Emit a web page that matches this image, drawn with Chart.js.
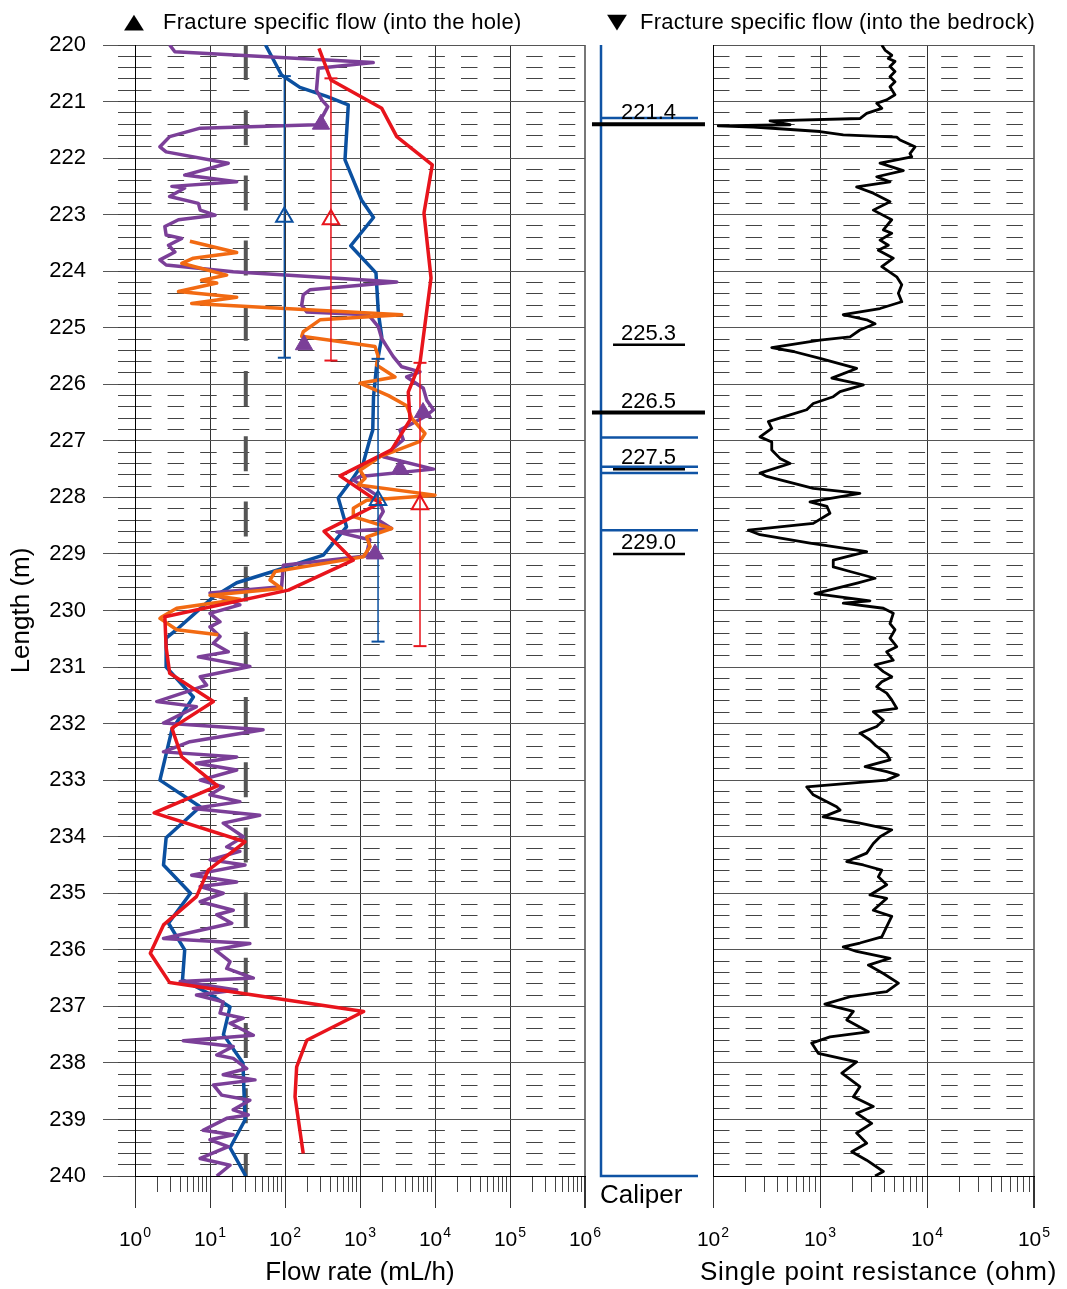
<!DOCTYPE html>
<html>
<head>
<meta charset="utf-8">
<script src="https://cdn.jsdelivr.net/npm/chart.js@4.4.1/dist/chart.umd.min.js"></script>
<style>
  body { margin: 0; background: #fff; font-family: "Liberation Sans", Arial, sans-serif; }
  #wrap { position: relative; width: 1067px; height: 1289px; overflow: hidden; background: #fff; }
  canvas { position: absolute; top: 0; }
  .txt { position: absolute; color: #000; white-space: nowrap; line-height: 1; }
  .mark { font-family: "DejaVu Sans", sans-serif; font-size: 26px; transform: scaleY(0.8); transform-origin: 50% 50%; }
</style>
</head>
<body>
<div id="wrap">
  <canvas id="flow" width="640" height="1289" style="left:0;width:640px;height:1289px"></canvas>
  <canvas id="caliper" width="125" height="1289" style="left:587px;width:125px;height:1289px"></canvas>
  <canvas id="spr" width="397" height="1289" style="left:670px;width:397px;height:1289px"></canvas>

  <div class="txt mark" style="left:124px;top:8px">▲</div>
  <div class="txt" style="left:163px;top:11px;font-size:22px;letter-spacing:0.3px">Fracture specific flow (into the hole)</div>
  <div class="txt mark" style="left:607px;top:8px">▼</div>
  <div class="txt" style="left:640px;top:11px;font-size:22px;letter-spacing:0.27px">Fracture specific flow (into the bedrock)</div>
  <div class="txt" style="left:600px;top:1181px;font-size:26px">Caliper</div>
  <div class="txt" style="left:700px;top:1258px;font-size:26px;letter-spacing:0.7px">Single point resistance (ohm)</div>
</div>

<script>
// depth (m), flow (mL/h)
const bluePts = [
  [220.00, 55], [220.53, 90], [220.75, 158], [220.91, 360], [221.06, 698], [222.03, 631],
  [222.74, 1047], [223.05, 1514], [223.55, 752], [224.03, 1633], [224.74, 1758], [225.16, 1950],
  [225.69, 1660], [226.22, 1514], [226.81, 1479], [226.98, 1349], [227.39, 1107], [227.69, 776],
  [228.01, 513], [228.52, 661], [229.02, 324], [229.31, 69], [229.51, 22.7], [229.76, 11.1],
  [230.31, 3.8], [230.49, 2.6], [231.00, 2.6], [231.53, 6.0], [232.11, 3.1], [233.00, 2.15],
  [233.47, 7.4], [234.02, 2.6], [234.50, 2.4], [235.00, 5.5], [235.53, 2.8], [236.00, 4.6],
  [236.53, 4.3], [236.75, 9.0], [237.01, 18.5], [237.50, 15.1], [238.00, 27.5], [239.01, 29.3],
  [239.50, 18.5], [240.00, 30]
];

const redPts = [
  [220.06, 284], [220.62, 410], [221.12, 1950], [221.62, 3090], [222.12, 9200], [222.97, 7130],
  [224.12, 8850], [225.62, 6310], [226.14, 4400], [226.63, 4650], [227.16, 2630], [227.62, 541],
  [228.10, 1850], [228.60, 331], [229.11, 813], [229.64, 111], [230.11, 2.5], [230.65, 2.6],
  [231.11, 2.9], [231.61, 11.1], [232.08, 3.1], [232.59, 4.2], [233.10, 12.6], [233.58, 1.8],
  [234.09, 29.3], [234.59, 9.5], [235.06, 6.6], [235.56, 2.4], [236.06, 1.6], [236.58, 2.9],
  [237.09, 1120], [237.60, 195], [238.07, 143], [238.60, 136], [239.60, 175]
];

const purplePts = [
  [220.00, 2.9], [220.12, 3.4], [220.31, 1500], [220.41, 278], [220.80, 263], [220.97, 309],
  [221.09, 372], [221.24, 324], [221.41, 263], [221.47, 7.4], [221.62, 2.9], [221.80, 2.15],
  [221.89, 2.6], [222.09, 17.5], [222.30, 4.6], [222.42, 22.7], [222.50, 3.1], [222.53, 4.6],
  [222.68, 2.9], [222.80, 7.0], [222.92, 7.4], [223.01, 11.7], [223.09, 3.8], [223.21, 2.5],
  [223.36, 2.6], [223.42, 4.2], [223.54, 2.8], [223.66, 3.4], [223.80, 2.15], [223.89, 2.6],
  [224.01, 20.4], [224.19, 3090], [224.33, 215], [224.42, 175], [224.60, 167], [224.72, 195],
  [224.77, 1290], [224.98, 1750], [225.19, 1950], [225.33, 2270], [225.51, 2780], [225.69, 3600],
  [225.78, 6310], [225.87, 4190], [226.07, 6980], [226.28, 7760], [226.45, 9550], [226.57, 7360],
  [226.81, 3410], [226.98, 3780], [227.28, 2040], [227.50, 9550], [227.63, 1000], [227.69, 813],
  [227.96, 1660], [228.25, 2040], [228.40, 1750], [228.55, 2630], [228.61, 490], [228.75, 1350],
  [228.99, 1230], [229.02, 1585], [229.20, 95], [229.58, 90], [229.69, 10], [229.90, 25],
  [230.05, 10], [230.20, 13.6], [230.29, 10], [230.46, 13.6], [230.58, 11.1], [230.73, 17.5],
  [230.82, 7.0], [230.99, 34], [231.17, 7.4], [231.32, 9.0], [231.61, 1.95], [231.70, 6.6],
  [231.99, 2.4], [232.11, 51], [232.32, 5.4], [232.50, 2.4], [232.59, 22.7], [232.70, 6.6],
  [232.82, 22.7], [233.00, 7.4], [233.12, 15], [233.26, 10], [233.38, 25], [233.50, 6.0],
  [233.62, 46], [233.76, 15], [234.00, 27.8], [234.18, 16.7], [234.26, 25], [234.41, 10],
  [234.50, 29.3], [234.68, 5.7], [234.80, 22.7], [234.88, 7.4], [235.00, 15], [235.15, 7.4],
  [235.30, 20.4], [235.38, 12.3], [235.53, 19.5], [235.80, 2.4], [235.89, 34], [236.00, 11.7],
  [236.21, 18.5], [236.33, 16.7], [236.50, 37.8], [236.56, 4.0], [236.71, 22.7], [236.80, 6.6],
  [236.92, 15], [237.12, 13.6], [237.21, 27.8], [237.30, 18.5], [237.51, 37.8], [237.61, 4.4],
  [237.71, 20.4], [237.86, 12.3], [237.92, 20.4], [238.10, 30.9], [238.21, 15], [238.30, 39.8],
  [238.39, 11.1], [238.57, 14.3], [238.66, 34], [238.83, 20.4], [238.92, 32.4], [238.98, 16.7],
  [239.19, 8.1], [239.27, 20.4], [239.36, 10], [239.48, 17.5], [239.69, 7.4], [239.81, 18.5],
  [240.00, 12.3]
];

const orangePts = [
  [223.47, 5.4], [223.67, 22.7], [223.77, 6.0], [223.86, 4.2], [224.07, 16.7], [224.16, 7.7],
  [224.21, 12.3], [224.36, 3.8], [224.46, 22.7], [224.57, 5.7], [224.77, 3600], [224.86, 293],
  [225.07, 175], [225.15, 167], [225.33, 1585], [225.51, 1750], [225.66, 1660], [225.87, 2930],
  [225.98, 1000], [226.20, 2400], [226.38, 4200], [226.60, 4900], [226.87, 7360], [227.01, 6310],
  [227.28, 1850], [227.52, 1000], [227.66, 1170], [227.78, 950], [227.96, 10000], [228.05, 1230],
  [228.19, 815], [228.34, 815], [228.55, 2640], [228.70, 1230], [228.87, 1360], [229.05, 1110],
  [229.14, 440], [229.31, 74], [229.46, 63], [229.61, 90], [229.73, 10], [229.80, 25],
  [229.96, 3.6], [230.11, 2.3], [230.14, 2.15], [230.34, 3.6], [230.43, 12.9]
];

// measured 5 m sections: [top, bottom, flow]
const blueSections = [[220.55, 225.53, 98], [225.55, 230.55, 1740]];
const redSections = [[220.59, 225.58, 410], [225.62, 230.63, 6310]];

const detectionLimit = 30;

const fractureDepths = [221.4, 225.3, 226.5, 227.5, 229.0];
const fractureFlow = [302, 179, 6920, 3415, 1585];
const fractureMajor = [true, false, true, false, false];

const caliperSpikes = [221.29, 226.94, 227.46, 227.57, 228.58];

// depth (m), resistance (ohm)
const sprPts = [
  [220.00, 3780], [220.09, 4050], [220.18, 4680], [220.24, 4350], [220.29, 5020], [220.38, 4510],
  [220.47, 5020], [220.56, 4510], [220.65, 5020], [220.74, 4510], [220.88, 5020], [220.97, 4200],
  [221.03, 3390], [221.12, 3780], [221.21, 2730], [221.30, 2360], [221.34, 341], [221.41, 525],
  [221.43, 112], [221.45, 238], [221.53, 1000], [221.59, 1650], [221.63, 5210], [221.68, 5600],
  [221.80, 7730], [221.92, 6930], [221.98, 7200], [222.09, 3640], [222.22, 6010], [222.33, 3390],
  [222.42, 4510], [222.51, 2200], [222.62, 3150], [222.77, 4510], [222.92, 3150], [223.09, 4680],
  [223.27, 3910], [223.33, 4680], [223.45, 3640], [223.54, 4350], [223.63, 3510], [223.77, 4840],
  [223.92, 3780], [224.10, 5210], [224.24, 5810], [224.39, 5400], [224.54, 5810], [224.66, 3640],
  [224.77, 1650], [224.86, 2730], [224.93, 3270], [225.04, 2360], [225.16, 1910], [225.22, 1000],
  [225.35, 354], [225.42, 563], [225.54, 1000], [225.72, 2200], [225.89, 1290], [226.01, 2540],
  [226.13, 1540], [226.22, 1330], [226.34, 865], [226.45, 751], [226.54, 525], [226.66, 329],
  [226.78, 354], [226.93, 275], [227.02, 354], [227.16, 354], [227.31, 423], [227.40, 525],
  [227.57, 275], [227.63, 318], [227.84, 865], [227.93, 2360], [228.08, 807], [228.16, 1160],
  [228.28, 1240], [228.46, 865], [228.58, 214], [228.66, 275], [228.81, 807], [228.96, 2730],
  [229.11, 1330], [229.23, 1330], [229.31, 1910], [229.43, 3270], [229.51, 2270], [229.70, 897],
  [229.83, 2930], [229.87, 1650], [229.96, 3910], [230.05, 4840], [230.23, 4510], [230.34, 5020],
  [230.49, 4510], [230.64, 5210], [230.73, 4200], [230.88, 4840], [230.96, 3270], [231.08, 3910],
  [231.17, 4680], [231.26, 3780], [231.35, 3390], [231.46, 4200], [231.58, 4680], [231.73, 5210],
  [231.79, 3150], [231.94, 3910], [232.05, 3390], [232.17, 2360], [232.29, 2930], [232.38, 3270],
  [232.53, 4200], [232.64, 4510], [232.76, 2640], [232.85, 4200], [232.91, 5400], [233.00, 4200],
  [233.12, 751], [233.26, 865], [233.47, 1430], [233.53, 1540], [233.65, 1070], [233.76, 2360],
  [233.88, 4680], [234.00, 3640], [234.12, 3150], [234.29, 2730], [234.44, 1780], [234.50, 2540],
  [234.59, 3780], [234.71, 3510], [234.85, 4200], [235.03, 2930], [235.09, 4200], [235.30, 3150],
  [235.41, 4680], [235.59, 4200], [235.77, 3780], [235.88, 2360], [235.95, 1650], [236.03, 2200],
  [236.15, 4510], [236.27, 2830], [236.42, 3910], [236.59, 5400], [236.74, 4200], [236.83, 1910],
  [236.96, 1110], [237.09, 2050], [237.24, 1780], [237.45, 2830], [237.54, 1240], [237.65, 836],
  [237.83, 964], [237.98, 2200], [238.18, 1600], [238.42, 2360], [238.60, 2050], [238.77, 3150],
  [238.89, 2200], [239.07, 3040], [239.24, 2200], [239.42, 2730], [239.57, 1980], [239.72, 2730],
  [239.92, 3910], [240.00, 3270]
];

const flowDecades = [1, 10, 100, 1000, 10000, 100000, 1000000];
const sprDecades = [100, 1000, 10000, 100000];

const BLUE = '#0b50a0';
const RED = '#e8141c';
const PURPLE = '#7b3f98';
const ORANGE = '#f26a12';
const FONT = '"Liberation Sans", Arial, sans-serif';

Chart.defaults.font.family = FONT;
Chart.defaults.color = '#000';

const isWhole = (v) => Math.abs(v - Math.round(v)) < 1e-6;

function minorsOf(decades) {
  const out = [];
  decades.slice(0, -1).forEach((d) => {
    for (let k = 2; k <= 9; k++) out.push(d * k);
  });
  return out;
}

// "10" with a raised exponent under each decade tick
const decadeLabels = {
  id: 'decadeLabels',
  afterDraw(chart) {
    const s = chart.scales.x;
    const ctx = chart.ctx;
    const base = s.top + 70;
    ctx.save();
    ctx.fillStyle = '#000';
    ctx.textAlign = 'left';
    ctx.textBaseline = 'alphabetic';
    s.ticks.forEach((t) => {
      const x = s.getPixelForValue(t.value);
      const exp = String(Math.round(Math.log10(t.value)));
      ctx.font = '21px ' + FONT;
      const w1 = ctx.measureText('10').width;
      ctx.font = '14px ' + FONT;
      const w2 = ctx.measureText(exp).width;
      const left = x - (w1 + w2 + 1) / 2;
      ctx.font = '21px ' + FONT;
      ctx.fillText('10', left, base);
      ctx.font = '14px ' + FONT;
      ctx.fillText(exp, left + w1 + 1, base - 9.5);
    });
    ctx.restore();
  },
};

function depthScales(labelled, yWidth) {
  return {
    y: {
      type: 'linear',
      position: 'left',
      reverse: true,
      min: 220,
      max: 240,
      weight: 1,
      afterFit: (s) => { s.width = yWidth; },
      ticks: { stepSize: 1, display: labelled, color: '#000', font: { size: 22 }, padding: 17 },
      grid: { color: '#555', tickColor: '#555', tickLength: 32, drawTicks: labelled },
      border: { color: '#000' },
      title: {
        display: labelled,
        text: 'Length (m)',
        color: '#000',
        font: { size: 26 },
        padding: { top: 6, bottom: 0 },
      },
    },
    ym: {
      type: 'linear',
      position: 'left',
      reverse: true,
      min: 220,
      max: 240,
      weight: 0,
      afterFit: (s) => { s.width = 0; },
      ticks: { stepSize: 0.2, display: false },
      grid: {
        color: (ctx) => (ctx.tick && isWhole(ctx.tick.value) ? 'rgba(0,0,0,0)' : '#444'),
        tickColor: '#444',
        tickLength: 17,
        drawTicks: labelled,
      },
      border: { display: false, dash: [16.5, 16.1] },
    },
  };
}

function logScales(min, max, decades, title) {
  const last = (ctx) => ctx.tick && ctx.tick.value === max;
  return {
    x: {
      type: 'logarithmic',
      position: 'bottom',
      min: min,
      max: max,
      weight: 1,
      afterBuildTicks: (s) => { s.ticks = decades.map((v) => ({ value: v })); },
      afterFit: (s) => { s.height = 113; },
      ticks: { display: false, autoSkip: false },
      grid: {
        color: (ctx) => (last(ctx) ? '#777' : '#333'),
        lineWidth: (ctx) => (last(ctx) ? 2 : 1),
        tickColor: '#333',
        tickLength: 32,
      },
      border: { color: '#000' },
      title: title
        ? { display: true, text: title, color: '#000', font: { size: 26 }, padding: { top: 0, bottom: 1 } }
        : { display: false },
    },
    xm: {
      type: 'logarithmic',
      position: 'bottom',
      min: min,
      max: max,
      weight: 0,
      afterBuildTicks: (s) => { s.ticks = minorsOf(decades).map((v) => ({ value: v })); },
      afterFit: (s) => { s.height = 0; },
      ticks: { display: false },
      grid: { drawOnChartArea: false, color: '#444', tickLength: 16 },
      border: { display: false },
    },
  };
}

function line(pts, color, width) {
  return {
    data: pts.map((p) => ({ x: p[1], y: p[0] })),
    borderColor: color,
    backgroundColor: color,
    borderWidth: width,
    pointRadius: 0,
    showLine: true,
    tension: 0,
    borderJoinStyle: 'round',
  };
}

function section(sec, color) {
  const mid = (sec[0] + sec[1]) / 2;
  return {
    data: [{ x: sec[2], y: sec[0] }, { x: sec[2], y: mid }, { x: sec[2], y: sec[1] }],
    borderColor: color,
    borderWidth: 1.5,
    showLine: true,
    tension: 0,
    pointStyle: ['line', 'triangle', 'line'],
    pointRadius: [6.5, 9.5, 6.5],
    pointBorderWidth: [2, 2, 2],
    pointBorderColor: color,
    pointBackgroundColor: 'rgba(0,0,0,0)',
  };
}

const baseOpts = {
  responsive: false,
  animation: false,
  devicePixelRatio: 1,
  plugins: { legend: { display: false }, tooltip: { enabled: false } },
  events: [],
};

// left panel: flow rate
new Chart(document.getElementById('flow'), {
  type: 'scatter',
  data: {
    datasets: [
      {
        data: fractureDepths.map((d, i) => ({ x: fractureFlow[i], y: d })),
        pointStyle: 'triangle',
        pointRadius: 10,
        pointBackgroundColor: PURPLE,
        pointBorderColor: PURPLE,
        pointBorderWidth: 1,
        showLine: false,
      },
      ...blueSections.map((s) => section(s, BLUE)),
      ...redSections.map((s) => section(s, RED)),
      line(redPts, RED, 3.5),
      line(orangePts, ORANGE, 3.5),
      line(purplePts, PURPLE, 3.5),
      line(bluePts, BLUE, 3.5),
      {
        data: [{ x: detectionLimit, y: 220 }, { x: detectionLimit, y: 240 }],
        borderColor: '#555',
        borderWidth: 4,
        borderDash: [35, 30.2],
        pointRadius: 0,
        showLine: true,
      },
    ],
  },
  options: {
    ...baseOpts,
    layout: { padding: { top: 45, right: 55, bottom: 0, left: 0 } },
    scales: { ...logScales(1, 1000000, flowDecades, 'Flow rate (mL/h)'), ...depthScales(true, 135) },
  },
  plugins: [decadeLabels],
});

// middle panel: caliper and fracture marks
const fractureLabels = {
  id: 'fractureLabels',
  afterDatasetsDraw(chart) {
    const { ctx, scales } = chart;
    ctx.save();
    ctx.font = '22px ' + FONT;
    ctx.fillStyle = '#000';
    ctx.textAlign = 'center';
    ctx.textBaseline = 'alphabetic';
    fractureDepths.forEach((d) => {
      ctx.fillText(d.toFixed(1), scales.x.getPixelForValue(49), scales.y.getPixelForValue(d) - 5);
    });
    ctx.restore();
  },
};

const caliperData = [{ x: 0, y: 220 }];
caliperSpikes.forEach((d) => {
  caliperData.push({ x: 0, y: d }, { x: 100, y: d }, { x: 0, y: d });
});
caliperData.push({ x: 0, y: 240 }, { x: 100, y: 240 });

new Chart(document.getElementById('caliper'), {
  type: 'scatter',
  data: {
    datasets: [
      ...fractureDepths.map((d, i) => ({
        data: fractureMajor[i]
          ? [{ x: -9.3, y: d }, { x: 107.2, y: d }]
          : [{ x: 12.4, y: d }, { x: 86.6, y: d }],
        borderColor: '#000',
        borderWidth: fractureMajor[i] ? 4 : 2.5,
        pointRadius: 0,
        showLine: true,
        clip: false,
      })),
      {
        data: caliperData,
        borderColor: '#0f53a4',
        borderWidth: 2.5,
        pointRadius: 0,
        showLine: true,
        tension: 0,
        clip: false,
      },
    ],
  },
  options: {
    ...baseOpts,
    layout: { padding: { top: 45, right: 14, bottom: 113, left: 14 } },
    scales: {
      x: { type: 'linear', min: 0, max: 100, display: false },
      y: { type: 'linear', reverse: true, min: 220, max: 240, display: false },
    },
  },
  plugins: [fractureLabels],
});

// right panel: single point resistance
new Chart(document.getElementById('spr'), {
  type: 'scatter',
  data: {
    datasets: [line(sprPts, '#000', 2.8)],
  },
  options: {
    ...baseOpts,
    layout: { padding: { top: 45, right: 33, bottom: 0, left: 0 } },
    scales: { ...logScales(100, 100000, sprDecades, null), ...depthScales(false, 43) },
  },
  plugins: [decadeLabels],
});
</script>
</body>
</html>
